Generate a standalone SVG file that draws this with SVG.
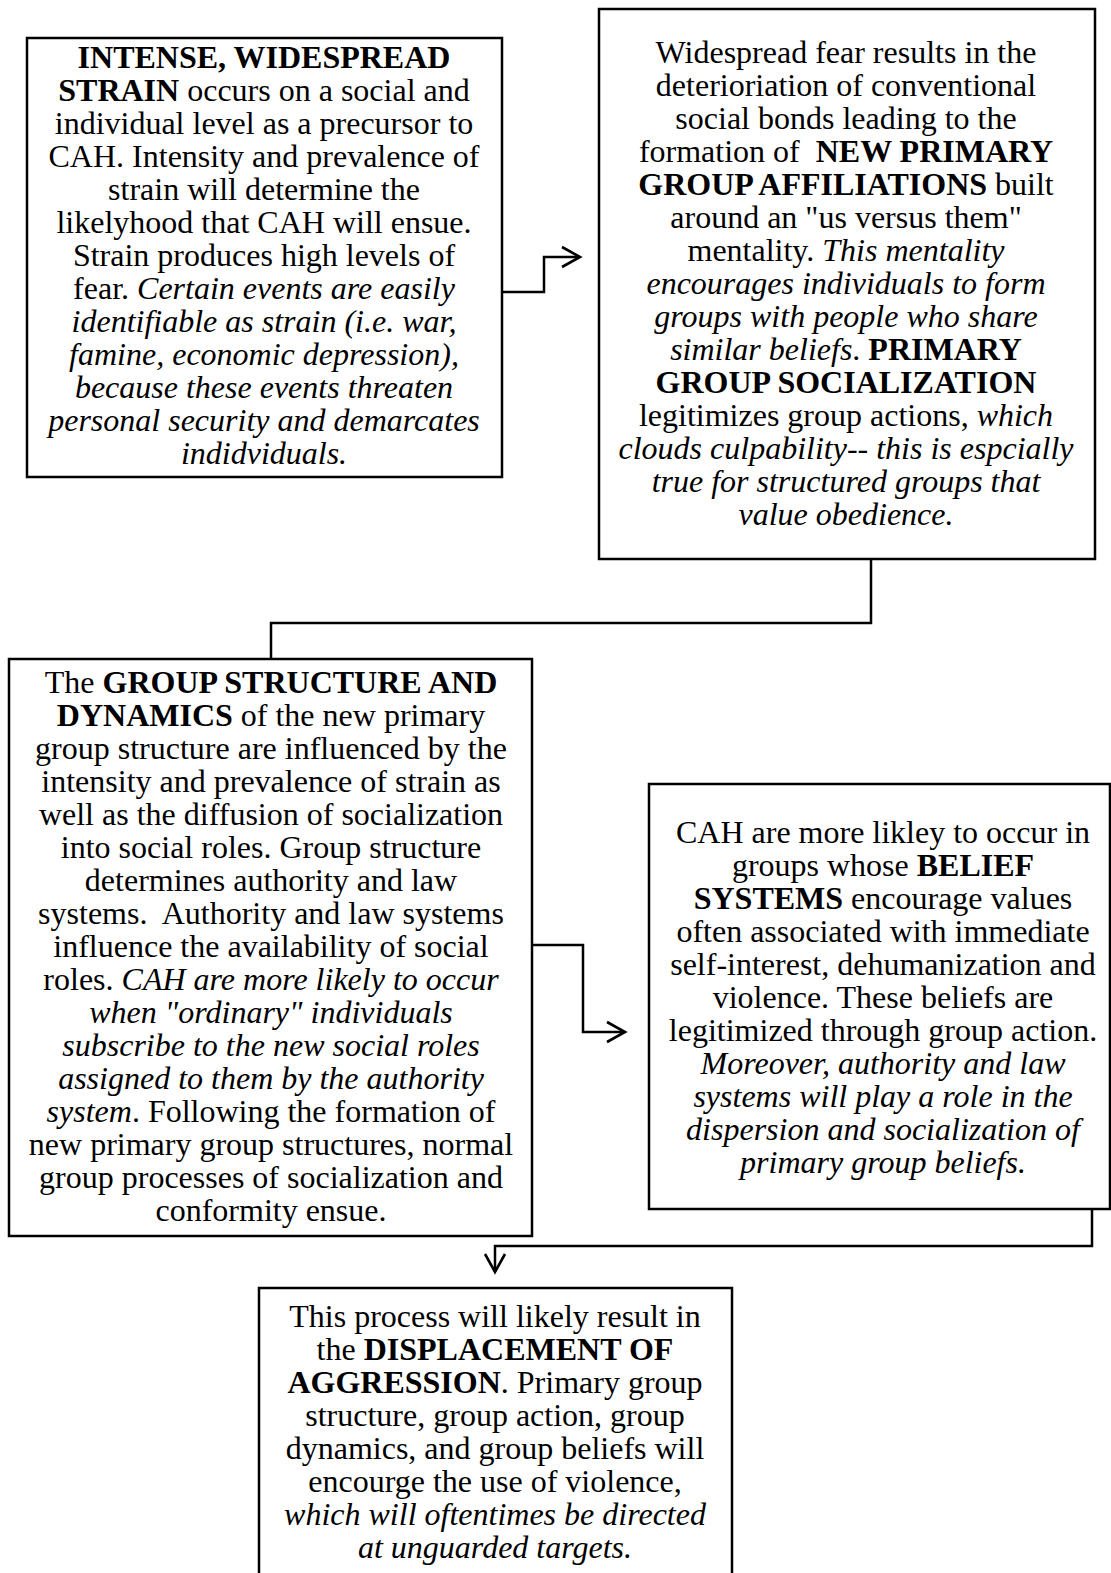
<svg xmlns="http://www.w3.org/2000/svg" width="1111" height="1573" viewBox="0 0 1111 1573">
<style>
.box{fill:#fff;stroke:#000;stroke-width:2.5}
.t{font-family:"Liberation Serif","Times New Roman",serif;font-size:32px;fill:#000;text-anchor:middle}
.b{font-weight:bold}
.i{font-style:italic}
.c{fill:none;stroke:#000;stroke-width:2.5}
</style>
<defs>
<marker id="arr" viewBox="-22 -13 25 26" refX="0" refY="0" markerWidth="25" markerHeight="26" markerUnits="userSpaceOnUse" orient="auto">
<polyline points="-18,-10 0,0 -18,10" fill="none" stroke="#000" stroke-width="2.6"/>
</marker>
</defs>
<rect width="1111" height="1573" fill="#fff"/>
<g id="connectors">
<polyline class="c" points="502,292 544,292 544,257 580,257" marker-end="url(#arr)"/>
<polyline class="c" points="871,559 871,623 271,623 271,659"/>
<polyline class="c" points="532,945 583,945 583,1032 625,1032" marker-end="url(#arr)"/>
<polyline class="c" points="1092,1209 1092,1246 495,1246 495,1272" marker-end="url(#arr)"/>
</g>
<g id="strain">
<rect class="box" x="27" y="38" width="475" height="439"/>
<text class="t" x="264" y="68"><tspan class="b">INTENSE, WIDESPREAD</tspan></text>
<text class="t" x="264" y="101"><tspan class="b">STRAIN</tspan> occurs on a social and</text>
<text class="t" x="264" y="134">individual level as a precursor to</text>
<text class="t" x="264" y="167">CAH. Intensity and prevalence of</text>
<text class="t" x="264" y="200">strain will determine the</text>
<text class="t" x="264" y="233">likelyhood that CAH will ensue.</text>
<text class="t" x="264" y="266">Strain produces high levels of</text>
<text class="t" x="264" y="299">fear. <tspan class="i">Certain events are easily</tspan></text>
<text class="t i" x="264" y="332">identifiable as strain (i.e. war,</text>
<text class="t i" x="264" y="365">famine, economic depression),</text>
<text class="t i" x="264" y="398">because these events threaten</text>
<text class="t i" x="264" y="431">personal security and demarcates</text>
<text class="t i" x="264" y="464">indidviduals.</text>
</g>
<g id="primary-group">
<rect class="box" x="599" y="9" width="496" height="550"/>
<text class="t" x="846" y="63">Widespread fear results in the</text>
<text class="t" x="846" y="96">deterioriation of conventional</text>
<text class="t" x="846" y="129">social bonds leading to the</text>
<text class="t" x="846" y="162" xml:space="preserve">formation of  <tspan class="b">NEW PRIMARY</tspan></text>
<text class="t" x="846" y="195"><tspan class="b">GROUP AFFILIATIONS</tspan> built</text>
<text class="t" x="846" y="228">around an "us versus them"</text>
<text class="t" x="846" y="261">mentality. <tspan class="i">This mentality</tspan></text>
<text class="t i" x="846" y="294">encourages individuals to form</text>
<text class="t i" x="846" y="327">groups with people who share</text>
<text class="t" x="846" y="360"><tspan class="i">similar beliefs</tspan>. <tspan class="b">PRIMARY</tspan></text>
<text class="t b" x="846" y="393">GROUP SOCIALIZATION</text>
<text class="t" x="846" y="426">legitimizes group actions, <tspan class="i">which</tspan></text>
<text class="t i" x="846" y="459">clouds culpability-- this is espcially</text>
<text class="t i" x="846" y="492">true for structured groups that</text>
<text class="t i" x="846" y="525">value obedience.</text>
</g>
<g id="group-structure">
<rect class="box" x="9" y="659" width="523" height="577"/>
<text class="t" x="271" y="693">The <tspan class="b">GROUP STRUCTURE AND</tspan></text>
<text class="t" x="271" y="726"><tspan class="b">DYNAMICS</tspan> of the new primary</text>
<text class="t" x="271" y="759">group structure are influenced by the</text>
<text class="t" x="271" y="792">intensity and prevalence of strain as</text>
<text class="t" x="271" y="825">well as the diffusion of socialization</text>
<text class="t" x="271" y="858">into social roles. Group structure</text>
<text class="t" x="271" y="891">determines authority and law</text>
<text class="t" x="271" y="924" xml:space="preserve">systems.  Authority and law systems</text>
<text class="t" x="271" y="957">influence the availability of social</text>
<text class="t" x="271" y="990">roles. <tspan class="i">CAH are more likely to occur</tspan></text>
<text class="t i" x="271" y="1023">when "ordinary" individuals</text>
<text class="t i" x="271" y="1056">subscribe to the new social roles</text>
<text class="t i" x="271" y="1089">assigned to them by the authority</text>
<text class="t" x="271" y="1122"><tspan class="i">system</tspan>. Following the formation of</text>
<text class="t" x="271" y="1155">new primary group structures, normal</text>
<text class="t" x="271" y="1188">group processes of socialization and</text>
<text class="t" x="271" y="1221">conformity ensue.</text>
</g>
<g id="belief-systems">
<rect class="box" x="649" y="784" width="461" height="425"/>
<text class="t" x="883" y="843">CAH are more likley to occur in</text>
<text class="t" x="883" y="876">groups whose <tspan class="b">BELIEF</tspan></text>
<text class="t" x="883" y="909"><tspan class="b">SYSTEMS</tspan> encourage values</text>
<text class="t" x="883" y="942">often associated with immediate</text>
<text class="t" x="883" y="975">self-interest, dehumanization and</text>
<text class="t" x="883" y="1008">violence. These beliefs are</text>
<text class="t" x="883" y="1041">legitimized through group action.</text>
<text class="t i" x="883" y="1074">Moreover, authority and law</text>
<text class="t i" x="883" y="1107">systems will play a role in the</text>
<text class="t i" x="883" y="1140">dispersion and socialization of</text>
<text class="t i" x="883" y="1173">primary group beliefs.</text>
</g>
<g id="displacement">
<rect class="box" x="259" y="1288" width="473" height="291"/>
<text class="t" x="495" y="1327">This process will likely result in</text>
<text class="t" x="495" y="1360">the <tspan class="b">DISPLACEMENT OF</tspan></text>
<text class="t" x="495" y="1393"><tspan class="b">AGGRESSION</tspan>. Primary group</text>
<text class="t" x="495" y="1426">structure, group action, group</text>
<text class="t" x="495" y="1459">dynamics, and group beliefs will</text>
<text class="t" x="495" y="1492">encourge the use of violence,</text>
<text class="t i" x="495" y="1525">which will oftentimes be directed</text>
<text class="t i" x="495" y="1558">at unguarded targets.</text>
</g>
</svg>
